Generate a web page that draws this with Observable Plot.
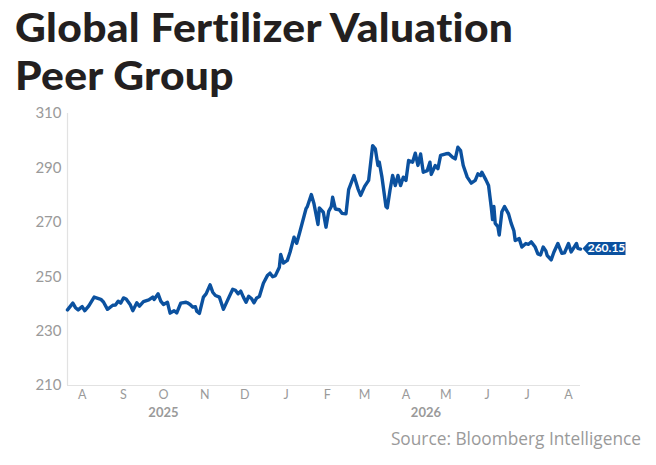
<!DOCTYPE html>
<html>
<head>
<meta charset="utf-8">
<script src="https://cdn.jsdelivr.net/npm/d3@7"></script>
<script src="https://cdn.jsdelivr.net/npm/@observablehq/plot@0.6"></script>
<style>
  html, body { margin: 0; padding: 0; background: #fff; }
  body { width: 656px; height: 465px; position: relative; overflow: hidden; }
  .title { position: absolute; left: 15px; font-family: Lato, sans-serif; font-weight: 900;
           font-size: 40px; line-height: 48px; height: 48px; color: #231f20; letter-spacing: 0.3px; white-space: nowrap;
           transform: scaleX(1.064); transform-origin: 0 50%; }
  #t1 { top: 3px; }
  #t2 { top: 51px; }
  #chart { position: absolute; left: 0; top: 100px; }
  #source { position: absolute; right: 15px; top: 427px; font-family: "Open Sans", sans-serif; font-size: 17.3px; color: #9a9a9a; }
</style>
</head>
<body>
<div class="title" id="t1">Global Fertilizer Valuation</div>
<div class="title" id="t2">Peer Group</div>
<div id="chart"></div>
<div id="source">Source: Bloomberg Intelligence</div>
<script>
const dates = [
"2025-07-21","2025-07-25","2025-07-27","2025-07-29","2025-08-01","2025-08-03","2025-08-06","2025-08-10","2025-08-15","2025-08-17",
"2025-08-20","2025-08-24","2025-08-26","2025-08-28","2025-08-30","2025-09-01","2025-09-03","2025-09-06","2025-09-08","2025-09-11",
"2025-09-13","2025-09-16","2025-09-20","2025-09-23","2025-09-24","2025-09-27","2025-09-29","2025-10-01","2025-10-04","2025-10-06",
"2025-10-09","2025-10-11","2025-10-14","2025-10-18","2025-10-19","2025-10-21","2025-10-23","2025-10-25","2025-10-26","2025-10-28",
"2025-10-31","2025-11-02","2025-11-05","2025-11-07","2025-11-09","2025-11-12","2025-11-15","2025-11-18","2025-11-22","2025-11-24",
"2025-11-26","2025-11-28","2025-11-30","2025-12-02","2025-12-04","2025-12-06","2025-12-08","2025-12-10","2025-12-12","2025-12-15",
"2025-12-18","2025-12-20","2025-12-22","2025-12-24","2025-12-27","2025-12-28","2025-12-30","2026-01-02","2026-01-04","2026-01-07",
"2026-01-09","2026-01-11","2026-01-16","2026-01-17","2026-01-20","2026-01-22","2026-01-25","2026-01-26","2026-01-29","2026-01-31",
"2026-02-02","2026-02-04","2026-02-05","2026-02-07","2026-02-10","2026-02-12","2026-02-15","2026-02-17","2026-02-21","2026-02-24",
"2026-02-26","2026-03-01","2026-03-04","2026-03-07","2026-03-09","2026-03-11","2026-03-12","2026-03-14","2026-03-17","2026-03-18",
"2026-03-20","2026-03-22","2026-03-24","2026-03-26","2026-03-28","2026-03-30","2026-04-01","2026-04-03","2026-04-06","2026-04-08",
"2026-04-10","2026-04-12","2026-04-14","2026-04-17","2026-04-19","2026-04-20","2026-04-23","2026-04-25","2026-04-27","2026-05-01",
"2026-05-03","2026-05-06","2026-05-08","2026-05-10","2026-05-12","2026-05-14","2026-05-17","2026-05-20","2026-05-23","2026-05-25",
"2026-05-27","2026-05-28","2026-05-31","2026-06-02","2026-06-04","2026-06-05","2026-06-06","2026-06-07","2026-06-09","2026-06-10",
"2026-06-12","2026-06-14","2026-06-17","2026-06-19","2026-06-21","2026-06-22","2026-06-25","2026-06-27","2026-06-30","2026-07-02",
"2026-07-04","2026-07-07","2026-07-09","2026-07-11","2026-07-13","2026-07-15","2026-07-16","2026-07-19","2026-07-21","2026-07-24",
"2026-07-27","2026-07-29","2026-08-01","2026-08-03","2026-08-07","2026-08-08","2026-08-10"
];
const values = [
237.8,240.3,238.6,237.8,239.0,237.5,239.3,242.5,241.7,240.7,
238.0,239.5,239.6,241.0,240.3,242.2,241.8,239.8,237.5,240.4,
239.2,240.8,241.5,242.5,241.6,243.7,241.0,239.8,240.6,236.6,
237.5,236.7,240.3,240.6,240.4,239.8,238.8,239.0,237.3,236.5,
242.5,243.7,247.0,244.3,243.1,242.5,238.0,241.2,245.4,245.0,
243.7,244.7,242.5,240.6,242.8,242.0,240.4,242.2,242.7,247.6,
250.4,251.3,250.0,250.4,253.5,258.2,255.0,256.0,259.0,264.5,
262.3,265.8,275.0,275.8,280.2,276.8,269.2,275.3,273.7,268.2,
274.0,275.8,279.2,274.9,274.6,273.3,273.1,282.0,287.2,282.3,
279.9,283.2,285.4,298.2,297.0,290.9,292.1,286.6,275.8,275.3,
281.7,287.2,283.5,287.2,283.5,286.6,285.4,292.7,292.1,295.4,
290.9,295.1,288.4,289.0,292.1,287.6,290.9,289.7,294.6,295.2,
295.3,293.9,293.3,297.6,296.4,290.9,286.6,284.4,285.4,287.8,
287.2,288.4,285.6,283.5,275.6,271.0,275.8,269.6,268.4,265.3,
273.9,275.8,273.1,269.6,266.9,263.3,264.0,260.9,262.2,261.9,
262.8,260.9,258.4,258.0,260.9,259.5,257.8,256.2,259.0,262.2,
258.6,258.8,262.2,259.1,262.2,260.4,260.15
];
const yTicks = [210, 230, 250, 270, 290, 310];
const monthTicks = ["2025-08-01","2025-09-01","2025-10-01","2025-11-01","2025-12-01","2026-01-01","2026-02-01",
                    "2026-03-01","2026-04-01","2026-05-01","2026-06-01","2026-07-01","2026-08-01"];
const monthLabels = ["A","S","O","N","D","J","F","M","A","M","J","J","A"];
const yearLabels = ["2025", "2026"];
const yearDates = ["2025-10-01", "2026-04-16"];
const lastLabel = "260.15";

const blue = "#0b519f";
const data = dates.map((d, i) => ({date: new Date(d), value: values[i]}));
const last = data[data.length - 1];
const monthDates = monthTicks.map(d => new Date(d));
const labelShape = {
  draw(ctx) {
    ctx.moveTo(2, -0.5);
    ctx.lineTo(8, -7);
    ctx.lineTo(45, -7);
    ctx.lineTo(45, 6);
    ctx.lineTo(8, 6);
    ctx.closePath();
  }
};

const chart = Plot.plot({
  width: 656,
  height: 340,
  marginLeft: 67,
  marginRight: 76,
  marginTop: 13,
  marginBottom: 55,
  style: {color: "#9a9a9a", background: "transparent", overflow: "visible"},
  x: {type: "utc", domain: [new Date(dates[0]), new Date(dates[dates.length - 1])]},
  y: {domain: [yTicks[0], yTicks[yTicks.length - 1]]},
  marks: [
    Plot.ruleY([yTicks[0]], {stroke: "#e2e2e2", strokeWidth: 1.2}),
    Plot.ruleX([new Date(dates[0])], {stroke: "#e2e2e2", strokeWidth: 1.2}),
    Plot.axisY({ticks: yTicks, tickSize: 0, tickPadding: 6, label: null, fontSize: 15,
                fontFamily: "Lato, sans-serif", fill: "#9a9a9a"}),
    Plot.axisX({ticks: monthDates, tickSize: 0, tickPadding: 5, label: null, fontSize: 12.5,
                fontFamily: "Lato, sans-serif", fill: "#9a9a9a",
                tickFormat: d => monthLabels[monthDates.findIndex(t => +t === +d)]}),
    Plot.text(yearLabels, {x: (d, i) => new Date(yearDates[i]), frameAnchor: "bottom", dy: 31,
                           fontSize: 13, fontWeight: "bold", fill: "#9a9a9a", fontFamily: "Lato, sans-serif"}),
    Plot.line(data, {x: "date", y: "value", stroke: blue, strokeWidth: 3.4, strokeLinejoin: "round", strokeLinecap: "round"}),
    Plot.dot([last], {x: "date", y: "value", symbol: labelShape, fill: blue, stroke: "none"}),
    Plot.text([last], {x: "date", y: "value", text: () => lastLabel, dx: 26, dy: -0.5, fill: "white",
                       fontWeight: "bold", fontSize: 12, fontFamily: "Lato, sans-serif", letterSpacing: "-0.3px"})
  ]
});
document.getElementById("chart").appendChild(chart);
</script>
</body>
</html>
